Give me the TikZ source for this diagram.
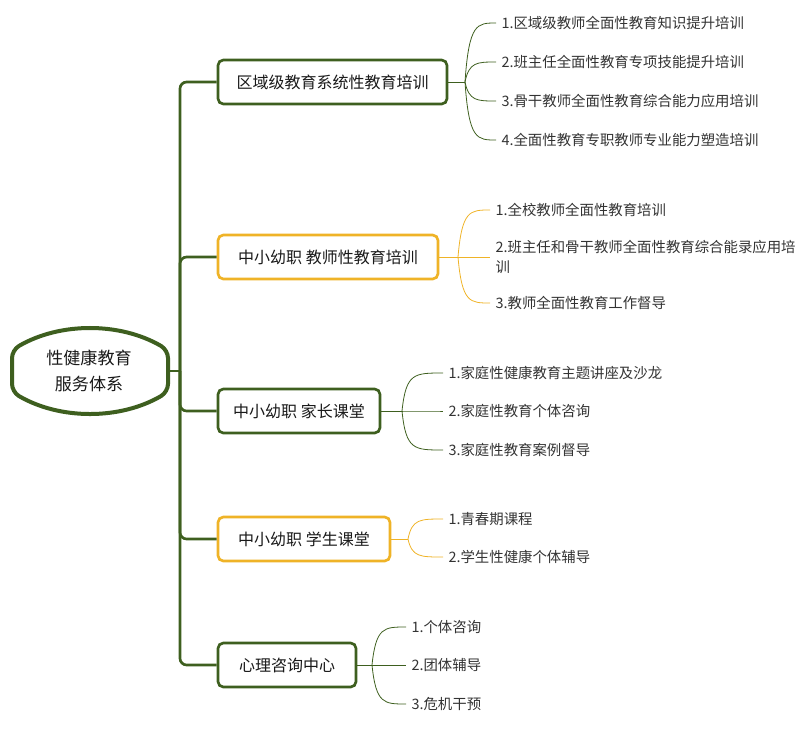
\documentclass[tikz,border=0pt]{standalone}
\usepackage{fontspec}
\setmainfont{Noto Sans CJK SC}
\begin{document}
\begin{tikzpicture}[x=0.75pt,y=-0.75pt,
  gb/.style={draw=dg,line width=2pt,rounded corners=4pt,fill=white,font=\fontsize{12}{14}\selectfont,text=black!90,inner sep=0pt},
  ob/.style={gb,draw=og},
  leaf/.style={anchor=west,font=\fontsize{10.8}{15}\selectfont,text=black!80,inner sep=1pt,align=left},
  gl/.style={draw=dg,line width=0.6pt},
  ol/.style={draw=og,line width=0.6pt}]
\definecolor{dg}{HTML}{3E5F1F}
\definecolor{og}{HTML}{EFB327}
\useasboundingbox (0,0) rectangle (800,729);
% root
\draw[dg,line width=3pt,fill=white,rounded corners=6pt] (12,350) .. controls (60,322) and (120,322) .. (168,350) -- (168,392) .. controls (120,420) and (60,420) .. (12,392) -- cycle;
\node[font=\fontsize{12.8}{19}\selectfont,align=center,text=black!90] (root) at (89,371) {性健康教育\\服务体系};
\coordinate (rE) at (168,371);
\coordinate (T) at (180,371);
% boxes
\node[gb,minimum width=229*0.75pt,minimum height=44*0.75pt] (b1) at (332.5,82) {区域级教育系统性教育培训};
\node[ob,minimum width=220*0.75pt,minimum height=44*0.75pt] (b2) at (328,257) {中小幼职 教师性教育培训};
\node[gb,minimum width=162*0.75pt,minimum height=44*0.75pt] (b3) at (299,411) {中小幼职 家长课堂};
\node[ob,minimum width=172*0.75pt,minimum height=44*0.75pt] (b4) at (304,539) {中小幼职 学生课堂};
\node[gb,minimum width=138*0.75pt,minimum height=44*0.75pt] (b5) at (287,665) {心理咨询中心};
% trunk
\draw[dg,line width=2pt] (rE) -- (T);
\foreach \b in {b1,b2,b3,b4,b5}{\draw[dg,line width=2pt,rounded corners=5pt] (T) |- (\b.west);}
% leaves
\node[leaf] (l11) at (500,23) {1.区域级教师全面性教育知识提升培训};
\node[leaf] (l12) at (500,62) {2.班主任全面性教育专项技能提升培训};
\node[leaf] (l13) at (500,101) {3.骨干教师全面性教育综合能力应用培训};
\node[leaf] (l14) at (500,140) {4.全面性教育专职教师专业能力塑造培训};
\node[leaf] (l21) at (494,210) {1.全校教师全面性教育培训};
\node[leaf] (l22) at (494,257) {2.班主任和骨干教师全面性教育综合能录应用培\\训};
\node[leaf] (l23) at (494,303) {3.教师全面性教育工作督导};
\node[leaf] (l31) at (447,373) {1.家庭性健康教育主题讲座及沙龙};
\node[leaf] (l32) at (447,411) {2.家庭性教育个体咨询};
\node[leaf] (l33) at (447,450) {3.家庭性教育案例督导};
\node[leaf] (l41) at (447,519) {1.青春期课程};
\node[leaf] (l42) at (447,557) {2.学生性健康个体辅导};
\node[leaf] (l51) at (410,627) {1.个体咨询};
\node[leaf] (l52) at (410,665) {2.团体辅导};
\node[leaf] (l53) at (410,704) {3.危机干预};
% leaf connectors
\coordinate (s1) at (465,82);
\draw[gl] (b1.east) -- (s1);
\foreach \l in {l11,l12,l13,l14}{\draw[gl] (s1) .. controls ([xshift=3pt]s1 |- \l.west) and ([xshift=9pt]s1 |- \l.west) .. ([xshift=-3pt]\l.west);}
\coordinate (s2) at (458,257);
\draw[ol] (b2.east) -- (s2);
\draw[ol] (s2) .. controls ([xshift=3pt]s2 |- l21.west) and ([xshift=9pt]s2 |- l21.west) .. ([xshift=-3pt]l21.west);
\draw[ol] (s2) -- ([xshift=-3pt]l22.west);
\draw[ol] (s2) .. controls ([xshift=3pt]s2 |- l23.west) and ([xshift=9pt]s2 |- l23.west) .. ([xshift=-3pt]l23.west);
\coordinate (s3) at (402,411);
\draw[gl] (b3.east) -- (s3);
\foreach \l in {l31,l32,l33}{\draw[gl] (s3) .. controls ([xshift=3pt]s3 |- \l.west) and ([xshift=9pt]s3 |- \l.west) .. ([xshift=-3pt]\l.west);}
\coordinate (s4) at (408,539);
\draw[ol] (b4.east) -- (s4);
\foreach \l in {l41,l42}{\draw[ol] (s4) .. controls ([xshift=3pt]s4 |- \l.west) and ([xshift=9pt]s4 |- \l.west) .. ([xshift=-3pt]\l.west);}
\coordinate (s5) at (372,665);
\draw[gl] (b5.east) -- (s5);
\foreach \l in {l51,l52,l53}{\draw[gl] (s5) .. controls ([xshift=3pt]s5 |- \l.west) and ([xshift=9pt]s5 |- \l.west) .. ([xshift=-3pt]\l.west);}
\end{tikzpicture}
\end{document}
